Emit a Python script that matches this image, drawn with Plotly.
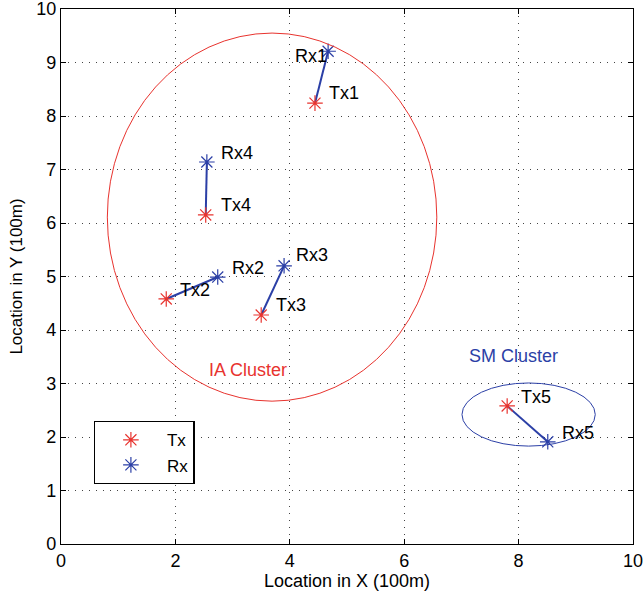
import plotly.graph_objects as go

tx_x = [4.44, 1.84, 3.50, 2.53, 7.80]
tx_y = [8.24, 4.58, 4.28, 6.15, 2.58]
rx_x = [4.67, 2.74, 3.90, 2.55, 8.51]
rx_y = [9.21, 4.99, 5.20, 7.14, 1.91]
tx_labels = ["Tx1", "Tx2", "Tx3", "Tx4", "Tx5"]
rx_labels = ["Rx1", "Rx2", "Rx3", "Rx4", "Rx5"]
tx_label_pos = [(4.65, 8.43), (2.05, 4.75), (3.72, 4.47), (2.76, 6.34), (8.01, 2.75)]
rx_label_pos = [(4.05, 9.12), (2.95, 5.16), (4.07, 5.40), (2.76, 7.31), (8.72, 2.07)]
ia_ellipse = (0.81, 2.67, 6.57, 9.55)
sm_ellipse = (7.01, 1.83, 9.34, 3.01)

RED = "#e8332e"
BLUE = "#2b3fa6"
FONT = "Liberation Sans, Arial, sans-serif"
FS = 18

fig = go.Figure()
for i in range(len(tx_x)):
    fig.add_trace(go.Scatter(x=[tx_x[i], rx_x[i]], y=[tx_y[i], rx_y[i]], mode="lines",
                             line=dict(color=BLUE, width=2), showlegend=False, hoverinfo="skip"))
fig.add_trace(go.Scatter(x=tx_x, y=tx_y, mode="markers", name="Tx",
                         marker=dict(symbol="asterisk-open", size=13, color=RED,
                                     line=dict(color=RED, width=1.2))))
fig.add_trace(go.Scatter(x=rx_x, y=rx_y, mode="markers", name="Rx",
                         marker=dict(symbol="asterisk-open", size=13, color=BLUE,
                                     line=dict(color=BLUE, width=1.2))))

for (lx, ly), t in zip(tx_label_pos + rx_label_pos, tx_labels + rx_labels):
    fig.add_annotation(x=lx, y=ly, text=t, showarrow=False, xanchor="left", yanchor="middle",
                       font=dict(family=FONT, size=FS, color="black"))
fig.add_annotation(x=2.55, y=3.25, text="IA Cluster", showarrow=False, xanchor="left",
                   font=dict(family=FONT, size=FS, color=RED))
fig.add_annotation(x=7.10, y=3.51, text="SM Cluster", showarrow=False, xanchor="left",
                   font=dict(family=FONT, size=FS, color=BLUE))

fig.add_shape(type="circle", xref="x", yref="y", x0=ia_ellipse[0], y0=ia_ellipse[1],
              x1=ia_ellipse[2], y1=ia_ellipse[3], line=dict(color=RED, width=1))
fig.add_shape(type="circle", xref="x", yref="y", x0=sm_ellipse[0], y0=sm_ellipse[1],
              x1=sm_ellipse[2], y1=sm_ellipse[3], line=dict(color=BLUE, width=1))

axis_common = dict(showline=True, linecolor="black", linewidth=1.3, mirror="ticks",
                   ticks="inside", ticklen=5, tickcolor="black", showgrid=True,
                   gridcolor="#444444", griddash="1px,6px", gridwidth=1, zeroline=False,
                   automargin=False, ticklabeloverflow="allow",
                   tickfont=dict(family=FONT, size=FS, color="black"))
fig.update_xaxes(range=[0, 10], dtick=2, title=dict(text="Location in X (100m)", standoff=4,
                 font=dict(family=FONT, size=FS, color="black")), **axis_common)
fig.update_yaxes(range=[0, 10], dtick=1, title=dict(text="Location in Y (100m)", standoff=9,
                 font=dict(family=FONT, size=17, color="black")), **axis_common)

fig.update_layout(width=644, height=594, margin=dict(l=61, r=11, t=9, b=50),
                  plot_bgcolor="white", paper_bgcolor="white",
                  legend=dict(x=0.057, y=0.23, xanchor="left", yanchor="top",
                              bordercolor="black", borderwidth=1.3, bgcolor="white",
                              itemwidth=62,
                              font=dict(family=FONT, size=17, color="black")),
                  font=dict(family=FONT))
fig.write_html("out.html", config={"displayModeBar": False},
               post_script="document.body.style.margin='0';")
